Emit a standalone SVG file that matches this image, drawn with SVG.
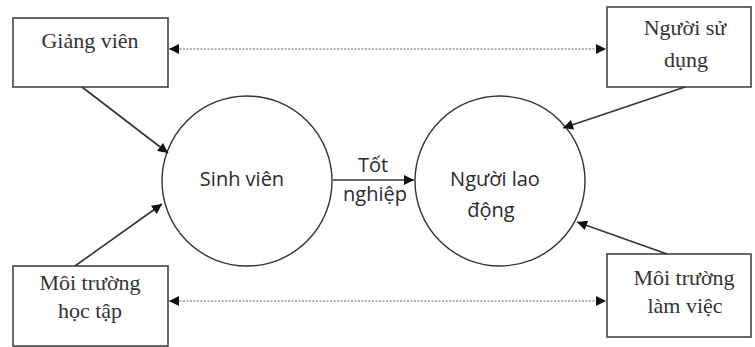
<svg xmlns="http://www.w3.org/2000/svg" width="755" height="347" viewBox="0 0 755 347">
  <defs>
    <marker id="arr" viewBox="0 0 10 10" refX="10" refY="5" markerWidth="11" markerHeight="10" markerUnits="userSpaceOnUse" orient="auto-start-reverse">
      <path d="M0,0 L10,5 L0,10 z" fill="#111"/>
    </marker>
  </defs>
  <style>
    .box { fill: #fff; stroke: #444; stroke-width: 1.6; }
    .circ { fill: #fff; stroke: #333; stroke-width: 1.4; }
    .serif { font-family: "Liberation Serif", "Times New Roman", serif; font-size: 22px; fill: #333; text-anchor: middle; }
    .sans { font-family: "Open Sans", "Liberation Sans", sans-serif; font-size: 20px; fill: #2a2a2a; text-anchor: middle; }
    .solid { stroke: #333; stroke-width: 1.6; fill: none; marker-end: url(#arr); }
    .dash { stroke: #999; stroke-width: 1.6; stroke-dasharray: 2 1.5; fill: none; marker-start: url(#arr); marker-end: url(#arr); }
  </style>
  <rect width="755" height="347" fill="#fff"/>

  <g id="giang-vien">
    <rect class="box" x="13" y="18" width="155" height="69"/>
    <text class="serif" x="90" y="48">Giảng viên</text>
  </g>
  <g id="nguoi-su-dung">
    <rect class="box" x="607" y="7" width="144" height="80"/>
    <text class="serif" x="685" y="35">Người sử</text>
    <text class="serif" x="686" y="67">dụng</text>
  </g>
  <g id="moi-truong-hoc-tap">
    <rect class="box" x="13" y="266" width="155" height="80"/>
    <text class="serif" x="90" y="290">Môi trường</text>
    <text class="serif" x="90" y="318">học tập</text>
  </g>
  <g id="moi-truong-lam-viec">
    <rect class="box" x="607" y="254" width="144" height="83"/>
    <text class="serif" x="684" y="285">Môi trường</text>
    <text class="serif" x="685" y="313">làm việc</text>
  </g>
  <g id="sinh-vien">
    <circle class="circ" cx="247" cy="181" r="85"/>
    <text class="sans" x="242" y="186">Sinh viên</text>
  </g>
  <g id="nguoi-lao-dong">
    <circle class="circ" cx="500" cy="181" r="85"/>
    <text class="sans" x="495" y="186">Người lao</text>
    <text class="sans" x="491" y="217">động</text>
  </g>

  <g id="connectors">
    <line class="dash" x1="169" y1="49" x2="606" y2="49"/>
    <line class="dash" x1="169" y1="301" x2="606" y2="301"/>
    <line class="solid" x1="82" y1="87" x2="168" y2="153"/>
    <line class="solid" x1="75" y1="266" x2="162" y2="204"/>
    <line class="solid" x1="685" y1="87" x2="563" y2="128"/>
    <line class="solid" x1="667" y1="254" x2="577" y2="222"/>
    <line class="solid" x1="333" y1="180" x2="414" y2="180"/>
    <text class="sans" x="373" y="172">Tốt</text>
    <text class="sans" x="375" y="201">nghiệp</text>
  </g>
</svg>
